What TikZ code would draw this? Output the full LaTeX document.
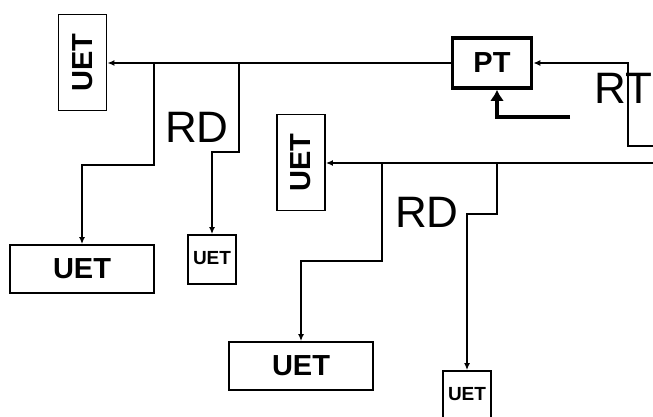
\documentclass[tikz,border=0pt]{standalone}
\usepackage{fontspec}
\setmainfont{Liberation Sans}
\usetikzlibrary{arrows.meta,positioning}

\begin{document}
\begin{tikzpicture}[
      x=1pt, y=-1pt,
      unit/.style={draw, line width=1.8pt, inner sep=0pt, font=\fontsize{29}{29}\selectfont\bfseries},
      wideunit/.style={unit, minimum width=144pt, minimum height=48pt},
      tallunit/.style={unit, minimum width=48pt, minimum height=96pt},
      smallunit/.style={unit, minimum width=48pt, minimum height=49pt, font=\fontsize{19}{19}\selectfont\bfseries},
      ptbox/.style={draw, line width=3.6pt, inner sep=0pt, minimum width=79pt, minimum height=50pt, font=\fontsize{29}{29}\selectfont\bfseries},
      tag/.style={inner sep=0pt, font=\fontsize{44}{44}\selectfont},
      link/.style={line width=1.4pt, -{Latex[length=7pt,width=6pt]}},
      feed/.style={line width=4.5pt, -{Latex[length=11pt,width=14pt]}}
    ]
      \useasboundingbox (0,0) rectangle (653,417);

      % units fed by the upper line
      \node[tallunit] (uetA) at (82.5,62.5) {\rotatebox{90}{UET}};
      \node[wideunit] (uetC) at (82,269) {UET};
      \node[smallunit] (uetD) at (212,259.5) {\raisebox{4pt}{UET}};

      % units fed by the lower line
      \node[tallunit] (uetB) at (301,162.5) {\rotatebox{90}{UET}};
      \node[wideunit] (uetE) at (301,366) {UET};
      \node[smallunit] (uetF) at (467,395.5) {\raisebox{4pt}{UET}};

      % transmitter
      \node[ptbox] (pt) at (492,63) {PT};

      % labels
      \node[tag] (rdA) at (197,127) {RD};
      \node[tag] (rdB) at (427,212) {RD};
      \node[tag] (rt) at (623,88) {RT};

      % junctions and free ends
      \coordinate (jA) at (154,63);
      \coordinate (jB) at (239,63);
      \coordinate (jC) at (382,163);
      \coordinate (jD) at (497,163);
      \coordinate (inA) at (660,146);
      \coordinate (inB) at (660,163);
      \coordinate (rtc) at (628,63);
      \coordinate (ctl) at (570,117);

      % upper line
      \draw[link] (pt.west) -- (uetA.east |- pt.west);
      \draw[link] (jA) -- ++(0,102) -| (uetC.north);
      \draw[link] (jB) -- ++(0,89) -| (uetD.north);
      \draw[link] (inA) -| (rtc) -- (pt.east);
      \draw[feed] (ctl) -| ([xshift=5pt]pt.south);

      % lower line
      \draw[link] (inB) -- (uetB.east |- inB);
      \draw[link] (jC) -- ++(0,98) -| (uetE.north);
      \draw[link] (jD) -- ++(0,51) -| (uetF.north);
    \end{tikzpicture}
\end{document}
